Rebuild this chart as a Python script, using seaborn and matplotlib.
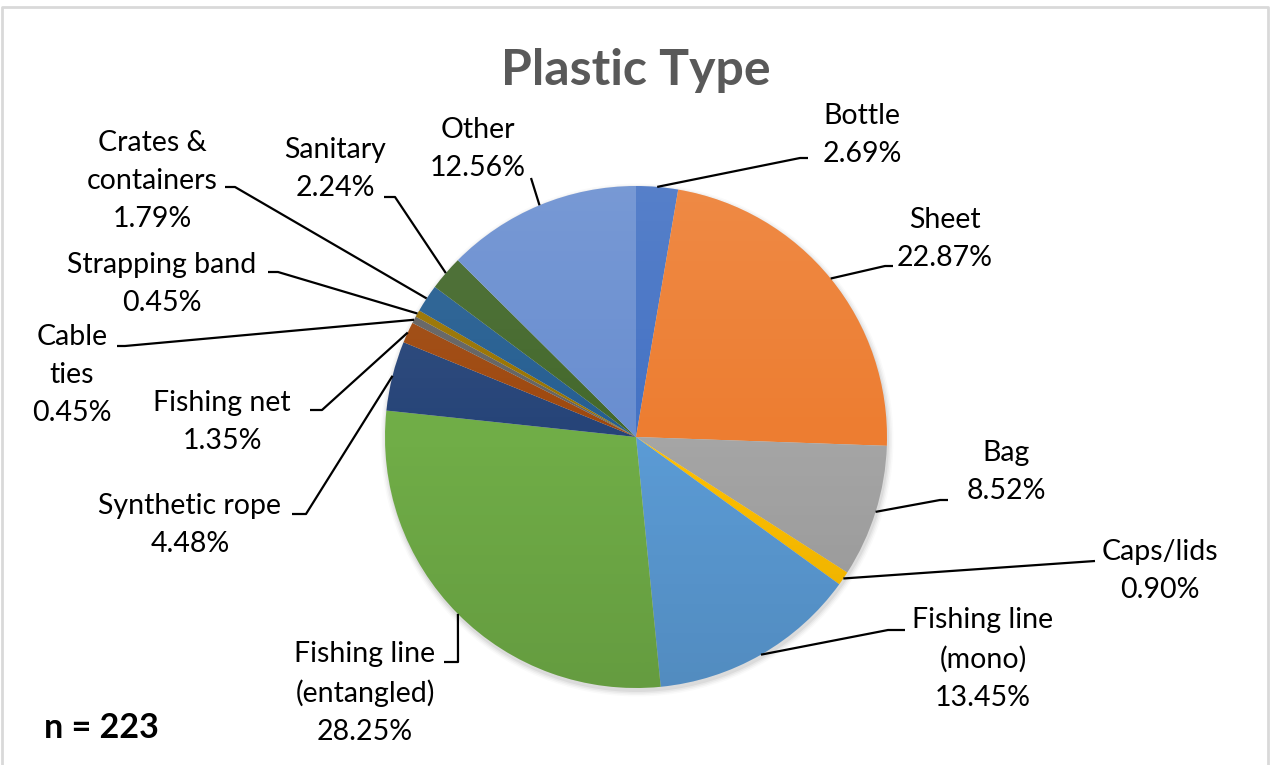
import numpy as np
import matplotlib
matplotlib.use("Agg")
import matplotlib.pyplot as plt
import seaborn as sns
from matplotlib.patches import Circle

# ---- data ----
categories = ["Bottle", "Sheet", "Bag", "Caps/lids", "Fishing line\n(mono)",
              "Fishing line\n(entangled)", "Synthetic rope", "Fishing net",
              "Cable\nties", "Strapping band", "Crates &\ncontainers",
              "Sanitary", "Other"]
percentages = [2.69, 22.87, 8.52, 0.90, 13.45, 28.25, 4.48, 1.35,
               0.45, 0.45, 1.79, 2.24, 12.56]
colors = ["#4472C4", "#ED7D31", "#A5A5A5", "#FFC000", "#5B9BD5", "#70AD47",
          "#264478", "#9E480E", "#636363", "#997300", "#255E91", "#43682B",
          "#698ED0"]
title = "Plastic Type"
n_label = "n = 223"

# ---- layout (pixel coordinates, y measured from top) ----
W, H = 1271, 765
CX, CY, R = 636, 437, 251
# label block centre, then leader-line elbow points (after slice edge)
label_pos = [
    (862, 135, [(800, 158), (808, 158)]),
    (945, 239, [(885, 266), (893, 266)]),
    (1006, 472, [(940, 500), (948, 500)]),
    (1160, 571, [(1095, 561)]),
    (983, 659, [(888, 630), (905, 630)]),
    (365, 693, [(458, 662), (444, 662)]),
    (190, 525, [(306, 514), (292, 514)]),
    (222, 422, [(322, 410), (310, 410)]),
    (72, 375, [(125, 346), (117, 346)]),
    (162, 284, [(278, 272), (268, 272)]),
    (152, 181, [(235, 187), (225, 187)]),
    (335, 169, [(395, 197), (384, 197)]),
    (478, 149, [(531, 178)]),
]

sns.set_theme(style="white")
plt.rcParams["font.family"] = ["Lato", "DejaVu Sans"]

fig = plt.figure(figsize=(W / 100, H / 100), dpi=100)
ax = fig.add_axes([0, 0, 1, 1])


def P(x, y):
    return x, H - y


# soft shadow
for k, a in enumerate([0.05, 0.04, 0.03, 0.02]):
    ax.add_patch(Circle(P(CX + 1, CY + 3), R + 1 + k * 1.5, color="black",
                        alpha=a, lw=0, zorder=0))

wedges, _ = ax.pie(percentages, colors=colors, startangle=90, counterclock=False,
                   center=P(CX, CY), radius=R,
                   wedgeprops=dict(linewidth=0, zorder=1))

# gentle vertical gradient like the Office style
grad = np.zeros((256, 1, 4))
t = np.linspace(0, 1, 256)
top = np.clip(1 - t / 0.5, 0, 1)
bot = np.clip((t - 0.5) / 0.5, 0, 1)
grad[:, 0, :3] = np.where(t[:, None] < 0.5, 1.0, 0.0)
grad[:, 0, 3] = 0.10 * top + 0.10 * bot
clip = Circle(P(CX, CY), R, transform=ax.transData, fill=False, lw=0)
ax.add_patch(clip)
im = ax.imshow(grad, extent=(CX - R, CX + R, H - CY - R, H - CY + R),
               origin="upper", aspect="auto", zorder=2, interpolation="bilinear")
im.set_clip_path(clip)

# labels and leader lines
for w, cat, pct, (lx, ly, elbows) in zip(wedges, categories, percentages, label_pos):
    mid = np.deg2rad((w.theta1 + w.theta2) / 2)
    sx = w.center[0] + w.r * np.cos(mid)
    sy = w.center[1] + w.r * np.sin(mid)
    xs = [sx] + [P(*e)[0] for e in elbows]
    ys = [sy] + [P(*e)[1] for e in elbows]
    ax.plot(xs, ys, color="black", lw=1.6, zorder=3, solid_capstyle="butt")
    ax.text(*P(lx, ly), f"{cat}\n{pct:.2f}%", ha="center", va="center",
            fontsize=20.5, color="black", linespacing=1.58, zorder=4)

ax.text(*P(636, 70), title, ha="center", va="center", fontsize=36,
        fontweight="bold", color="#595959")
ax.text(*P(101, 728), n_label, ha="center", va="center", fontsize=24.5,
        fontweight="bold", color="black")

# chart border
ax.plot([2, 2, 1268, 1268], [0, H - 7, H - 7, 0], color="#D9D9D9", lw=2,
        zorder=0, clip_on=False)

ax.set_xlim(0, W)
ax.set_ylim(0, H)
ax.set_axis_off()

fig.savefig("out.png", dpi=100, facecolor="white")
